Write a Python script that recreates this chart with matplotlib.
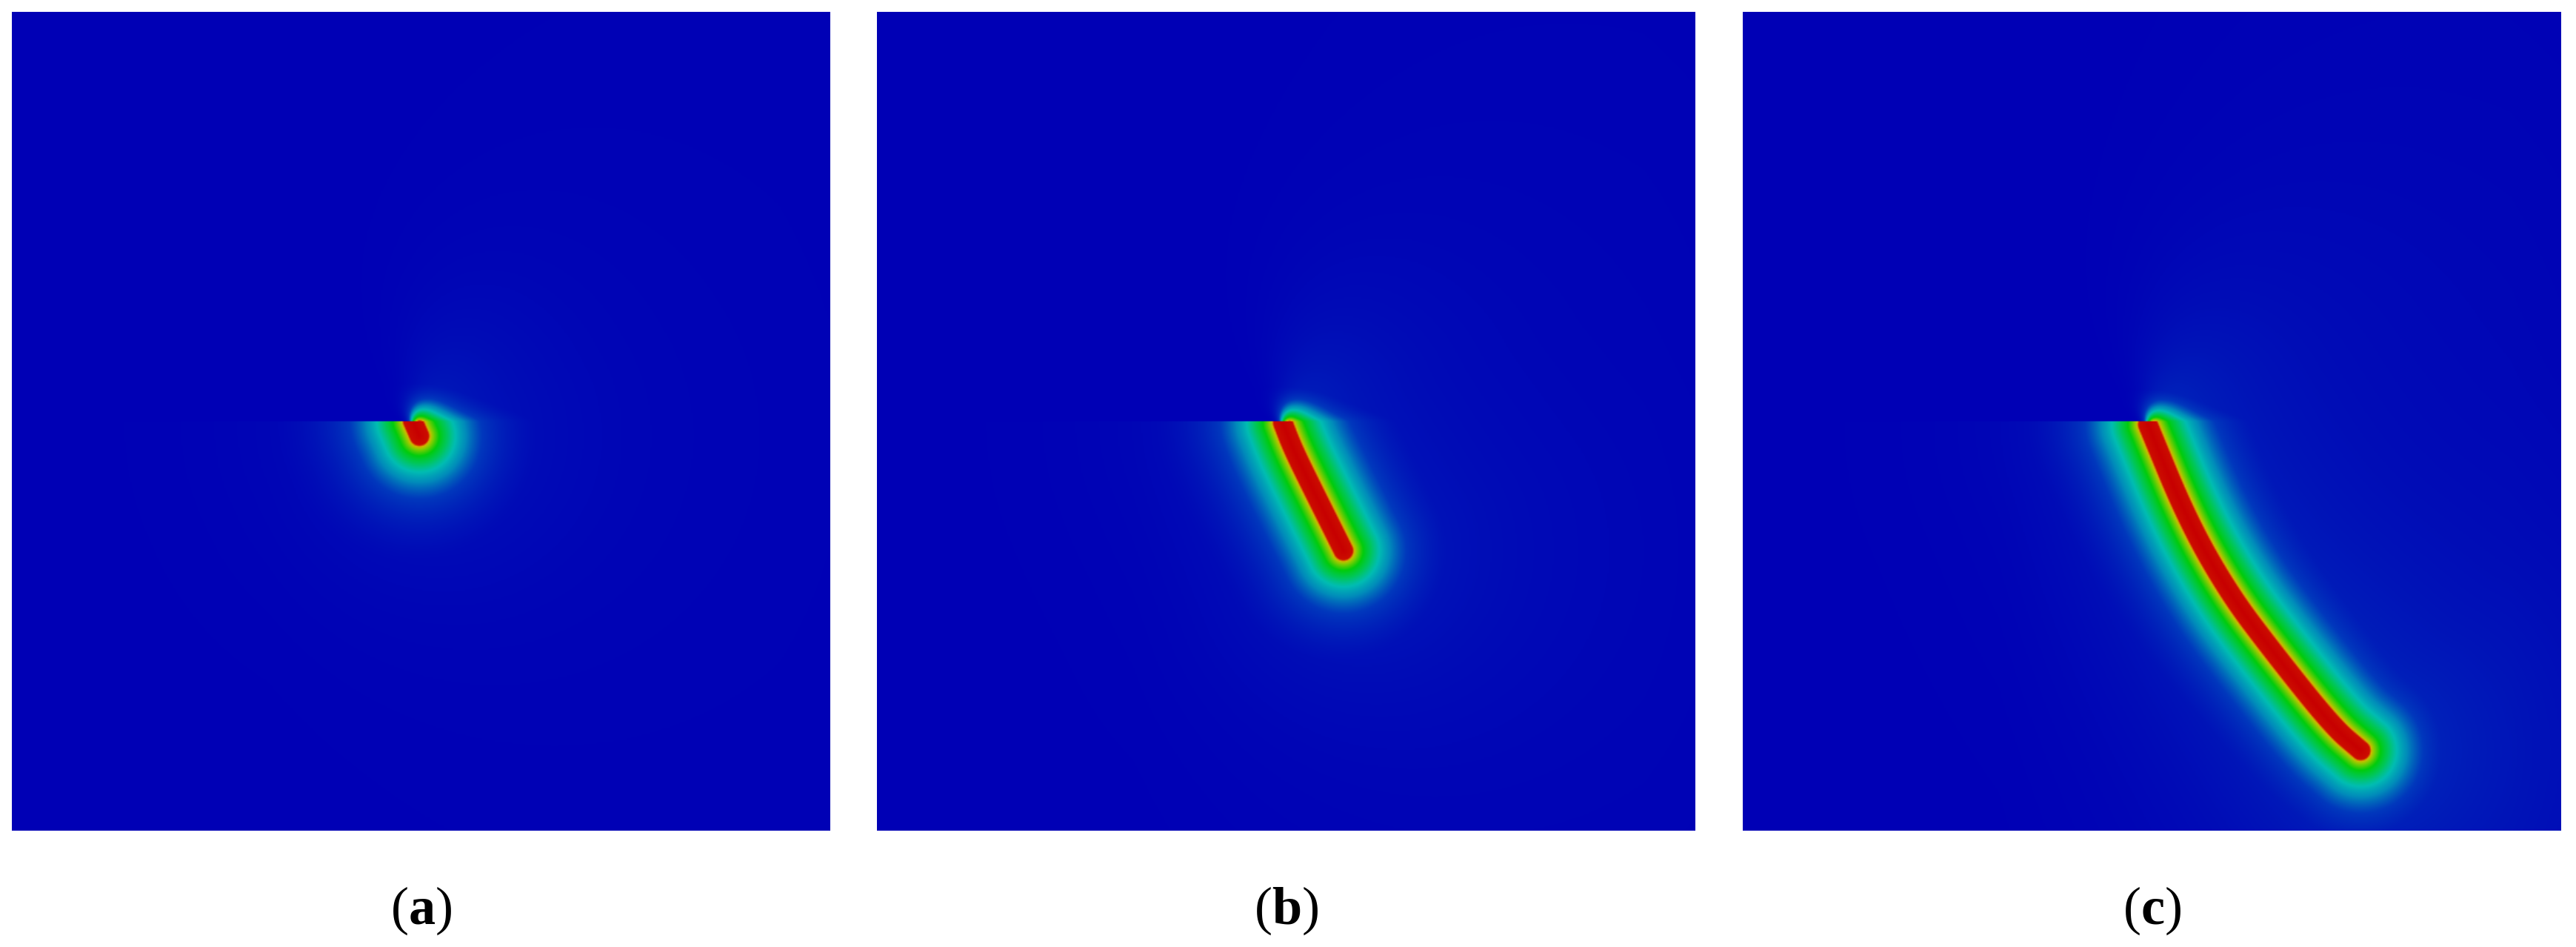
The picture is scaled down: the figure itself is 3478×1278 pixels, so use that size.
import numpy as np
import matplotlib
matplotlib.use('Agg')
from matplotlib import pyplot as plt
from matplotlib.colors import LinearSegmentedColormap

# three stages of the crack, unit square domain, notch runs from the left edge to the tip at y = 0.5
labels = ['a', 'b', 'c']
notch_tip = [0.490, 0.496, 0.495]

crack_a_x = [0.490, 0.498]
crack_a_y = [0.500, 0.482]

crack_b_x = [0.496, 0.506, 0.520, 0.570]
crack_b_y = [0.498, 0.472, 0.442, 0.342]

crack_c_x = [0.495, 0.543, 0.594, 0.649, 0.721, 0.755]
crack_c_y = [0.496, 0.380, 0.290, 0.217, 0.127, 0.098]

# faint halos around the crack at each stage (near and far)
halo_near = [0.10, 0.11, 0.12]
halo_far = [0.03, 0.05, 0.08]

cracks = [(crack_a_x, crack_a_y), (crack_b_x, crack_b_y), (crack_c_x, crack_c_y)]

cmap = LinearSegmentedColormap.from_list('pf', [
    (0.00, (0.00, 0.00, 0.71)),
    (0.16, (0.00, 0.22, 0.74)),
    (0.26, (0.00, 0.55, 0.73)),
    (0.35, (0.00, 0.74, 0.70)),
    (0.45, (0.00, 0.78, 0.35)),
    (0.56, (0.00, 0.80, 0.05)),
    (0.68, (0.55, 0.80, 0.00)),
    (0.73, (0.82, 0.72, 0.00)),
    (0.77, (0.80, 0.05, 0.00)),
    (1.00, (0.78, 0.00, 0.00)),
], N=2048)


def smooth_path(xs, ys, rounds=4):
    # corner cutting so the drawn crack bends smoothly between the read points
    p = np.column_stack([xs, ys])
    for _ in range(rounds):
        if len(p) < 3:
            break
        q = [p[0]]
        for i in range(len(p) - 1):
            q.append(0.75 * p[i] + 0.25 * p[i + 1])
            q.append(0.25 * p[i] + 0.75 * p[i + 1])
        q.append(p[-1])
        p = np.array(q)
    return p[:, 0], p[:, 1]


def path_dist(X, Y, xs, ys):
    d = np.full(X.shape, np.inf)
    for i in range(len(xs) - 1):
        ax, ay = xs[i], ys[i]
        vx, vy = xs[i + 1] - ax, ys[i + 1] - ay
        t = ((X - ax) * vx + (Y - ay) * vy) / (vx * vx + vy * vy)
        t = np.clip(t, 0, 1)
        d = np.minimum(d, np.hypot(X - ax - t * vx, Y - ay - t * vy))
    return d


def damage(xs, ys, tip, hn, hf, n=700):
    g = (np.arange(n) + 0.5) / n
    X, Y = np.meshgrid(g, g)
    sx, sy = smooth_path(xs, ys)
    r = path_dist(X, Y, sx, sy)
    # the notch cuts the field: above it and left of the tip the damage fades out
    w = 0.006 + 0.4 * np.clip(Y - 0.5, 0, None)
    mask = np.where(Y > 0.5, 0.5 * (1 + np.tanh((X - tip) / w)), 1.0)
    band = np.exp(-r / 0.042)
    band = band * np.where(Y > 0.5, np.exp(-(Y - 0.5) / 0.03), 1.0)
    glow = hn * np.exp(-r / 0.10) + hf * np.exp(-r / 0.3) * np.clip(1.6 * X - 0.5, 0, 1)
    return np.maximum(band, glow) * mask


W, H = 3478, 1278
fig = plt.figure(figsize=(W / 100, H / 100), dpi=100)

lefts = [16, 1184, 2353]
size = 1105
top = 16

for i in range(3):
    ax = fig.add_axes([lefts[i] / W, (H - top - size) / H, size / W, size / H])
    xs, ys = cracks[i]
    d = damage(xs, ys, notch_tip[i], halo_near[i], halo_far[i])
    ax.imshow(d, origin='lower', extent=[0, 1, 0, 1], cmap=cmap, vmin=0, vmax=1,
              interpolation='bilinear', aspect='auto')
    ax.set_xlim(0, 1)
    ax.set_ylim(0, 1)
    ax.axis('off')

plt.rcParams['mathtext.fontset'] = 'custom'
plt.rcParams['mathtext.rm'] = 'Liberation Serif'
plt.rcParams['mathtext.bf'] = 'Liberation Serif:bold'

for i in range(3):
    cx = (lefts[i] + size / 2) / W
    fig.text(cx, (H - 1247) / H, r'($\mathbf{%s}$)' % labels[i], ha='center', va='baseline',
             fontsize=52, family='Liberation Serif')

fig.savefig('out.png', dpi=100)
